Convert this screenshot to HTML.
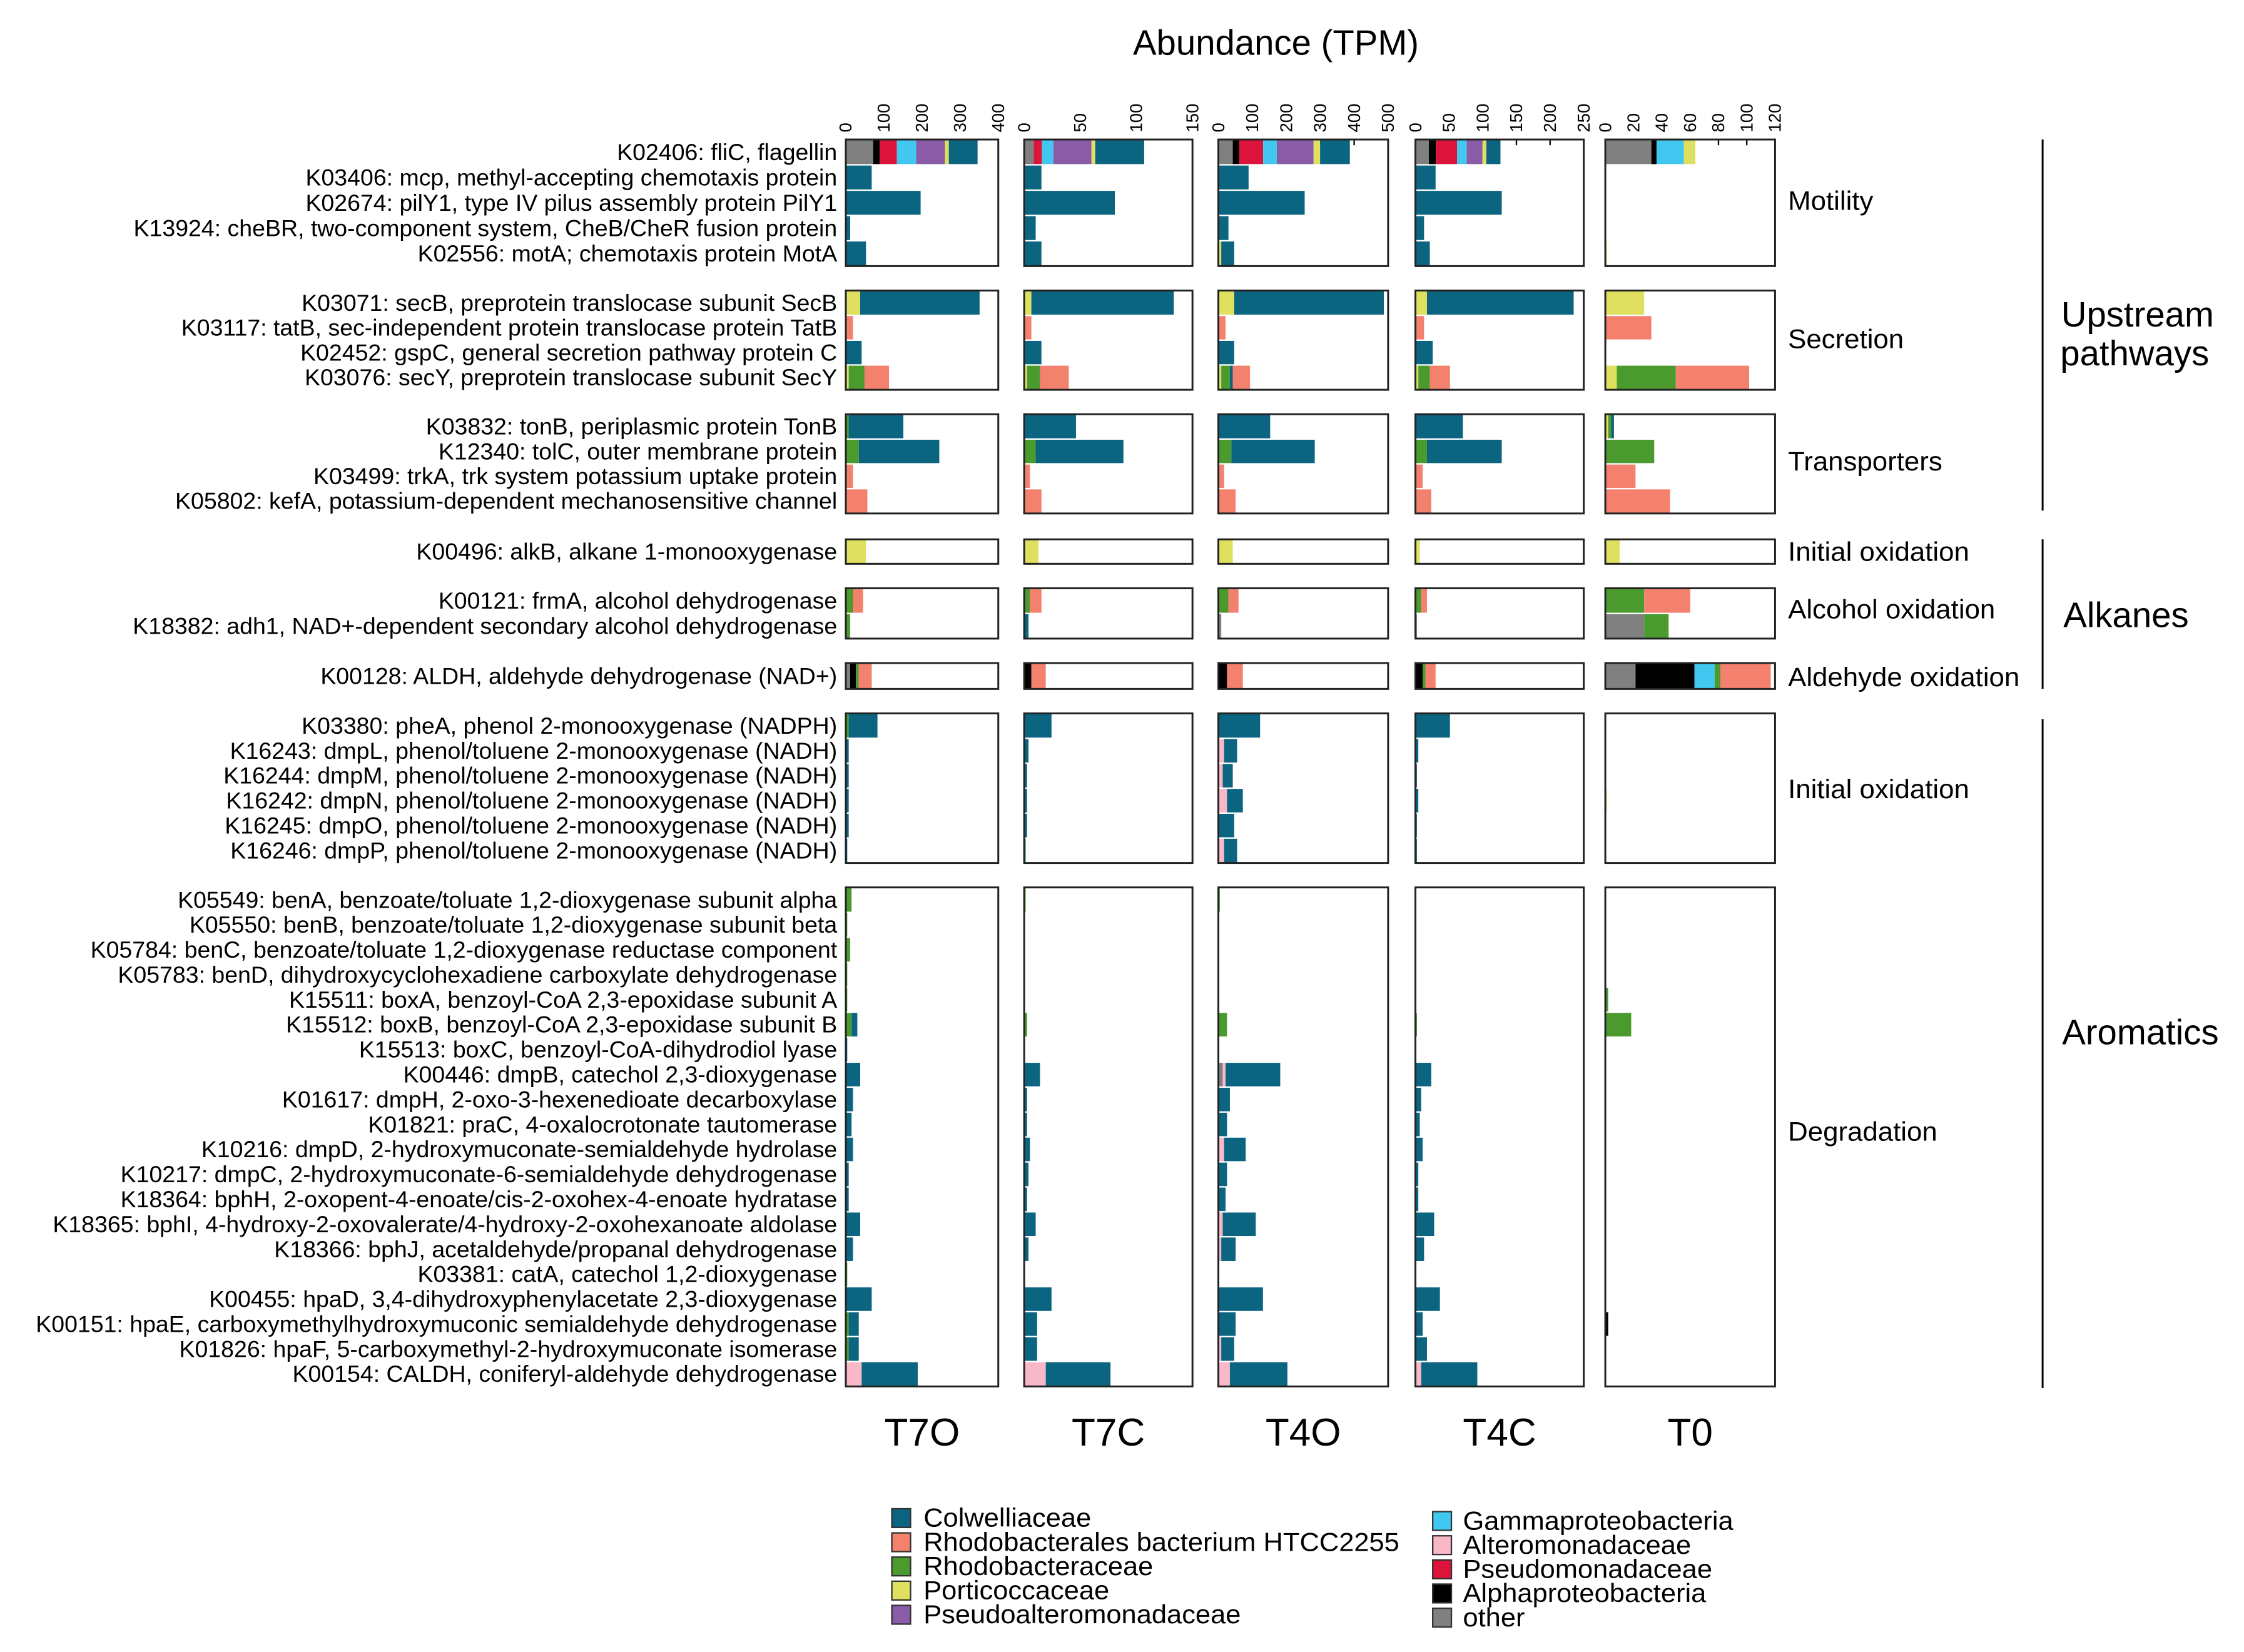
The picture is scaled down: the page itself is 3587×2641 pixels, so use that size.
<!DOCTYPE html>
<html><head><meta charset="utf-8"><style>html,body{margin:0;padding:0;background:#fff}svg{display:block}</style></head>
<body>
<svg id="s" xmlns="http://www.w3.org/2000/svg" width="3587" height="2641" viewBox="0 0 1560 1148.6" preserveAspectRatio="none" font-family="'Liberation Sans', Arial, sans-serif"></svg>
<script>
const C={t:'#0b6480',s:'#f4806e',g:'#4a9a2e',y:'#e0e060',p:'#8a5ca8',c:'#42c8f0',a:'#f8b8c8',r:'#dc143c',k:'#000',o:'#808080'};
const PX=[[588,694],[712,829],[847,965],[984,1101],[1116,1234]];
let h='';
function T(x,y,s,fs,anc,extra){h+=`<text x="${x}" y="${y}" font-size="${fs}" text-anchor="${anc||'start'}" ${extra||''}>${s}</text>`;}
T(887,38,'Abundance (TPM)',24.5,'middle');
const ticks=[[0,100,200,300,400],[0,50,100,150],[0,100,200,300,400,500],[0,50,100,150,200,250],[0,20,40,60,80,100,120]];
const maxs=[400,150,500,250,120];
PX.forEach((p,i)=>{ticks[i].forEach(v=>{const x=p[0]+(p[1]-p[0])*v/maxs[i];
 h+=`<text transform="translate(${x+4},92) rotate(-90)" font-size="12">${v}</text>`;
 h+=`<line x1="${x}" y1="97" x2="${x}" y2="101" stroke="#000" stroke-width="1"/>`;});});
const G=[
 {y0:97,y1:185,label:'Motility',ly:146,rows:[
  ['K02406: fliC, flagellin',[['o',19,'k',4.5,'r',12,'c',13.4,'p',20,'y',2.7,'t',20],['o',6.6,'r',5.7,'c',8,'p',26.5,'y',2.6,'t',34],['o',10,'k',4.5,'r',16.6,'c',9.5,'p',25.6,'y',4.5,'t',20.7],['o',9.3,'k',4.9,'r',14.7,'c',6.7,'p',11,'y',2.7,'t',9.8],['o',32,'k',3.6,'c',19,'y',8]]],
  ['K03406: mcp, methyl-accepting chemotaxis protein',[['t',18],['t',12],['t',21],['t',14],[]]],
  ['K02674: pilY1, type IV pilus assembly protein PilY1',[['t',52],['t',63],['t',60],['t',60],[]]],
  ['K13924: cheBR, two-component system, CheB/CheR fusion protein',[['t',3],['t',8],['t',7],['t',6],[]]],
  ['K02556: motA; chemotaxis protein MotA',[['t',14],['t',12],['y',2,'t',9],['t',10],['y',1]]]]},
 {y0:202,y1:271,label:'Secretion',ly:242,rows:[
  ['K03071: secB, preprotein translocase subunit SecB',[['y',10,'t',83],['y',5,'t',99],['y',11,'t',104],['y',8,'t',102],['y',27]]],
  ['K03117: tatB, sec-independent protein translocase protein TatB',[['s',5],['s',5],['s',5],['s',6],['s',32]]],
  ['K02452: gspC, general secretion pathway protein C',[['t',11],['t',12],['t',11],['t',12],[]]],
  ['K03076: secY, preprotein translocase subunit SecY',[['y',2,'g',11,'s',17],['y',2,'g',9,'s',20],['y',2,'g',6,'t',2,'s',12],['y',2,'g',8,'s',14],['y',8,'g',41,'s',51]]]]},
 {y0:288,y1:357,label:'Transporters',ly:327,rows:[
  ['K03832: tonB, periplasmic protein TonB',[['g',2,'t',38],['t',36],['t',36],['t',33],['y',2,'g',2,'t',2]]],
  ['K12340: tolC, outer membrane protein',[['g',9,'t',56],['g',8,'t',61],['g',9,'t',58],['g',8,'t',52],['g',34]]],
  ['K03499: trkA, trk system potassium uptake protein',[['s',5],['s',4],['s',4],['s',5],['s',21]]],
  ['K05802: kefA, potassium-dependent mechanosensitive channel',[['s',15],['s',12],['s',12],['s',11],['s',45]]]]},
 {y0:375,y1:392,label:'Initial oxidation',ly:390,rows:[
  ['K00496: alkB, alkane 1-monooxygenase',[['y',14],['y',10],['y',10],['y',3],['y',10]]]]},
 {y0:409,y1:444,label:'Alcohol oxidation',ly:430,rows:[
  ['K00121: frmA, alcohol dehydrogenase',[['g',5,'s',7],['g',4,'s',8],['g',7,'s',7],['g',4,'s',4],['g',27,'s',32]]],
  ['K18382: adh1, NAD+-dependent secondary alcohol dehydrogenase',[['g',3],['t',3],['o',2],['o',1],['o',27,'g',17]]]]},
 {y0:461,y1:479,label:'Aldehyde oxidation',ly:477,rows:[
  ['K00128: ALDH, aldehyde dehydrogenase (NAD+)',[['o',3,'k',4,'g',2,'s',9],['k',5,'s',10],['k',6,'s',11],['k',5,'g',2,'s',7],['o',21,'k',41,'c',14,'g',4,'s',35]]]]},
 {y0:496,y1:600,label:'Initial oxidation',ly:555,rows:[
  ['K03380: pheA, phenol 2-monooxygenase (NADPH)',[['g',2,'t',20],['t',19],['t',29],['t',24],[]]],
  ['K16243: dmpL, phenol/toluene 2-monooxygenase (NADH)',[['t',2],['t',3],['a',4,'t',9],['t',2],[]]],
  ['K16244: dmpM, phenol/toluene 2-monooxygenase (NADH)',[['t',2],['t',2],['a',3,'t',7],['t',1],[]]],
  ['K16242: dmpN, phenol/toluene 2-monooxygenase (NADH)',[['t',2],['t',2],['a',6,'t',11],['t',2],['y',1]]],
  ['K16245: dmpO, phenol/toluene 2-monooxygenase (NADH)',[['t',2],['t',2],['t',11],['t',1],[]]],
  ['K16246: dmpP, phenol/toluene 2-monooxygenase (NADH)',[['t',1],['t',1],['a',4,'t',9],['t',1],[]]]]},
 {y0:617,y1:964,label:'Degradation',ly:793,rows:[
  ['K05549: benA, benzoate/toluate 1,2-dioxygenase subunit alpha',[['g',4],['g',1],['g',1],[],[]]],
  ['K05550: benB, benzoate/toluate 1,2-dioxygenase subunit beta',[['g',1],[],[],[],[]]],
  ['K05784: benC, benzoate/toluate 1,2-dioxygenase reductase component',[['g',3],[],[],[],[]]],
  ['K05783: benD, dihydroxycyclohexadiene carboxylate dehydrogenase',[['g',1],[],[],[],[]]],
  ['K15511: boxA, benzoyl-CoA 2,3-epoxidase subunit A',[['g',1],[],[],[],['g',2]]],
  ['K15512: boxB, benzoyl-CoA 2,3-epoxidase subunit B',[['g',4,'t',4],['g',2],['g',6],['g',1],['g',18]]],
  ['K15513: boxC, benzoyl-CoA-dihydrodiol lyase',[['t',1],[],[],[],[]]],
  ['K00446: dmpB, catechol 2,3-dioxygenase',[['t',10],['t',11],['o',3,'a',2,'t',38],['t',11],[]]],
  ['K01617: dmpH, 2-oxo-3-hexenedioate decarboxylase',[['t',5],['t',2],['t',8],['t',4],[]]],
  ['K01821: praC, 4-oxalocrotonate tautomerase',[['t',4],['t',2],['t',6],['t',3],[]]],
  ['K10216: dmpD, 2-hydroxymuconate-semialdehyde hydrolase',[['t',5],['t',4],['a',4,'t',15],['t',5],[]]],
  ['K10217: dmpC, 2-hydroxymuconate-6-semialdehyde dehydrogenase',[['t',2],['t',3],['t',6],['t',2],[]]],
  ['K18364: bphH, 2-oxopent-4-enoate/cis-2-oxohex-4-enoate hydratase',[['t',2],['t',2],['t',5],['t',2],[]]],
  ['K18365: bphI, 4-hydroxy-2-oxovalerate/4-hydroxy-2-oxohexanoate aldolase',[['t',10],['t',8],['a',3,'t',23],['t',13],[]]],
  ['K18366: bphJ, acetaldehyde/propanal dehydrogenase',[['t',5],['t',3],['a',2,'t',10],['t',6],[]]],
  ['K03381: catA, catechol 1,2-dioxygenase',[['g',1],[],[],[],[]]],
  ['K00455: hpaD, 3,4-dihydroxyphenylacetate 2,3-dioxygenase',[['t',18],['t',19],['t',31],['t',17],[]]],
  ['K00151: hpaE, carboxymethylhydroxymuconic semialdehyde dehydrogenase',[['g',2,'t',7],['t',9],['t',12],['t',5],['k',2]]],
  ['K01826: hpaF, 5-carboxymethyl-2-hydroxymuconate isomerase',[['g',2,'t',7],['t',9],['a',2,'t',9],['t',8],[]]],
  ['K00154: CALDH, coniferyl-aldehyde dehydrogenase',[['a',11,'t',39],['a',15,'t',45],['a',8,'t',40],['a',4,'t',39],[]]]]}
];
G.forEach(g=>{
 const n=g.rows.length, rh=(g.y1-g.y0)/n;
 g.rows.forEach((r,i)=>{
  const yc=g.y0+rh*(i+0.5);
  h+=`<text x="582" y="${yc+5.5}" font-size="16.3" text-anchor="end" transform="translate(582,0) scale(1.0,1) translate(-582,0)">${r[0]}</text>`;
  r[1].forEach((segs,pi)=>{let x=PX[pi][0];
   for(let j=0;j<segs.length;j+=2){const w=segs[j+1];
    h+=`<rect x="${x}" y="${yc-rh/2+0.5}" width="${w}" height="${rh-1}" fill="${C[segs[j]]}"/>`;x+=w;}
  });
 });
 PX.forEach(p=>{h+=`<rect x="${p[0]}" y="${g.y0}" width="${p[1]-p[0]}" height="${g.y1-g.y0}" fill="none" stroke="#222" stroke-width="1.3"/>`;});
 T(1243,g.ly,g.label,18.5,'start','transform="translate(1243,0) scale(1.03,1) translate(-1243,0)"');
});
[[97,355],[375,479],[500,965]].forEach(b=>h+=`<line x1="1420" y1="${b[0]}" x2="1420" y2="${b[1]}" stroke="#000" stroke-width="1.3"/>`);
T(1486,227,'Upstream',24.5,'middle');T(1484,254,'pathways',24.5,'middle');
T(1478,436,'Alkanes',24.5,'middle');T(1488,726,'Aromatics',24.5,'middle');
['T7O','T7C','T4O','T4C','T0'].forEach((s,i)=>T((PX[i][0]+PX[i][1])/2,1005,s,27,'middle'));
const L1=[['t','Colwelliaceae'],['s','Rhodobacterales bacterium HTCC2255'],['g','Rhodobacteraceae'],['y','Porticoccaceae'],['p','Pseudoalteromonadaceae']];
const L2=[['c','Gammaproteobacteria'],['a','Alteromonadaceae'],['r','Pseudomonadaceae'],['k','Alphaproteobacteria'],['o','other']];
L1.forEach((l,i)=>{const y=1049+i*16.8;h+=`<rect x="620" y="${y}" width="13" height="13" fill="${C[l[0]]}" stroke="#333" stroke-width="1"/>`;
 h+=`<text x="642" y="${y+12.5}" font-size="18" transform="translate(642,0) scale(1.05,1) translate(-642,0)">${l[1]}</text>`;});
L2.forEach((l,i)=>{const y=1051+i*16.8;h+=`<rect x="996" y="${y}" width="13" height="13" fill="${C[l[0]]}" stroke="#333" stroke-width="1"/>`;
 h+=`<text x="1017" y="${y+12.5}" font-size="18" transform="translate(1017,0) scale(1.05,1) translate(-1017,0)">${l[1]}</text>`;});
document.getElementById('s').innerHTML=h;
</script>
</body></html>
